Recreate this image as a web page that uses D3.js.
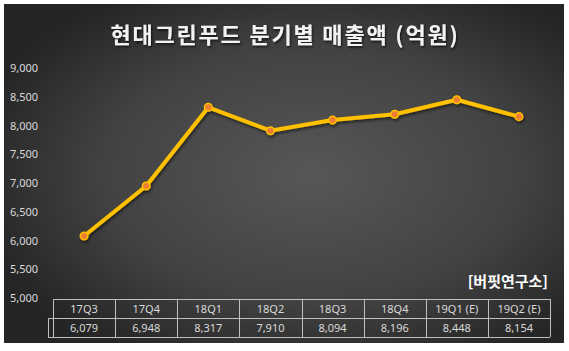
<!DOCTYPE html>
<html><head><meta charset="utf-8">
<script src="https://cdn.jsdelivr.net/npm/d3@7"></script>
<style>html,body{margin:0;padding:0;background:#fff;}svg{display:block;}</style>
</head><body>
<script>
const title = "현대그린푸드 분기별 매출액 (억원)";
const source = "[버핏연구소]";
const categories = ["17Q3","17Q4","18Q1","18Q2","18Q3","18Q4","19Q1 (E)","19Q2 (E)"];
const values = [6079, 6948, 8317, 7910, 8094, 8196, 8448, 8154];
const yTicks = [5000, 5500, 6000, 6500, 7000, 7500, 8000, 8500, 9000];

const W = 569, H = 351;
const svg = d3.select("body").append("svg").attr("width", W).attr("height", H);
const defs = svg.append("defs");
const grad = defs.append("radialGradient").attr("id","bg")
  .attr("cx","55%").attr("cy","50%").attr("r","62%");
grad.append("stop").attr("offset","0%").attr("stop-color","#575757");
grad.append("stop").attr("offset","60%").attr("stop-color","#424242");
grad.append("stop").attr("offset","100%").attr("stop-color","#252525");
const sh = defs.append("filter").attr("id","sh").attr("x","-10%").attr("y","-10%").attr("width","120%").attr("height","130%");
sh.append("feDropShadow").attr("dx",1).attr("dy",2).attr("stdDeviation",1.5).attr("flood-color","#000").attr("flood-opacity",0.55);
const tsh = defs.append("filter").attr("id","tsh");
tsh.append("feDropShadow").attr("dx",1).attr("dy",1.5).attr("stdDeviation",1).attr("flood-color","#000").attr("flood-opacity",0.7);

svg.append("rect").attr("x",4).attr("y",4).attr("width",560).attr("height",339).attr("fill","url(#bg)");

svg.append("text").attr("x",285).attr("y",43).attr("text-anchor","middle")
  .attr("font-family","'Noto Sans CJK KR'").attr("font-weight","bold").attr("font-size",22)
  .attr("letter-spacing",1.8).attr("fill","#f2f2f2").attr("filter","url(#tsh)").text(title);

const x = d3.scaleBand().domain(categories).range([53, 550]).padding(0);
const y = d3.scaleLinear().domain([5000, 9000]).range([298, 68]);

const yAxis = svg.append("g").attr("transform","translate(40,0)")
  .call(d3.axisLeft(y).tickValues(yTicks).tickFormat(d3.format(",")).tickSize(0).tickPadding(0));
yAxis.select(".domain").remove();
yAxis.selectAll("text").attr("text-anchor","start").attr("x",-30)
  .attr("font-family","'Noto Sans'").attr("font-size",11).attr("fill","#d9d9d9");

const line = d3.line().x((d,i)=>x(categories[i])+x.bandwidth()/2).y(d=>y(d));
const g = svg.append("g").attr("filter","url(#sh)");
g.append("path").datum(values).attr("d",line).attr("fill","none")
  .attr("stroke","#FFC000").attr("stroke-width",4).attr("stroke-linejoin","round").attr("stroke-linecap","round");
g.selectAll("circle").data(values).join("circle")
  .attr("cx",(d,i)=>x(categories[i])+x.bandwidth()/2).attr("cy",d=>y(d)).attr("r",3.8)
  .attr("fill","#ED7D31").attr("stroke","#FFC000").attr("stroke-width",1.5);

svg.append("text").attr("x",548).attr("y",287).attr("text-anchor","end")
  .attr("font-family","'Noto Sans CJK KR'").attr("font-weight","bold").attr("font-size",15)
  .attr("fill","#ffffff").text(source);

// data table
const r1 = 299, r2 = 318, r3 = 337, legL = 48;
const tbl = svg.append("g").attr("stroke","#bfbfbf").attr("stroke-width",1).attr("shape-rendering","crispEdges");
tbl.append("line").attr("x1",x.range()[0]).attr("x2",x.range()[1]).attr("y1",r1+0.5).attr("y2",r1+0.5);
tbl.append("line").attr("x1",legL).attr("x2",x.range()[1]).attr("y1",r2+0.5).attr("y2",r2+0.5);
tbl.append("line").attr("x1",legL).attr("x2",x.range()[1]).attr("y1",r3+0.5).attr("y2",r3+0.5);
tbl.append("line").attr("x1",legL+0.5).attr("x2",legL+0.5).attr("y1",r2).attr("y2",r3);
const edges = categories.map(c=>x(c)).concat([x.range()[1]]);
tbl.selectAll("line.v").data(edges).join("line").attr("class","v")
  .attr("x1",d=>Math.round(d)+0.5).attr("x2",d=>Math.round(d)+0.5).attr("y1",r1).attr("y2",r3);
const tt = svg.append("g").attr("font-family","'Noto Sans'").attr("font-size",11).attr("fill","#d9d9d9").attr("text-anchor","middle");
tt.selectAll("text.h").data(categories).join("text").attr("class","h")
  .attr("x",d=>x(d)+x.bandwidth()/2).attr("y",(r1+r2)/2+4).text(d=>d);
tt.selectAll("text.v").data(values).join("text").attr("class","v")
  .attr("x",(d,i)=>x(categories[i])+x.bandwidth()/2).attr("y",(r2+r3)/2+4).text(d=>d3.format(",")(d));
</script>
</body></html>
